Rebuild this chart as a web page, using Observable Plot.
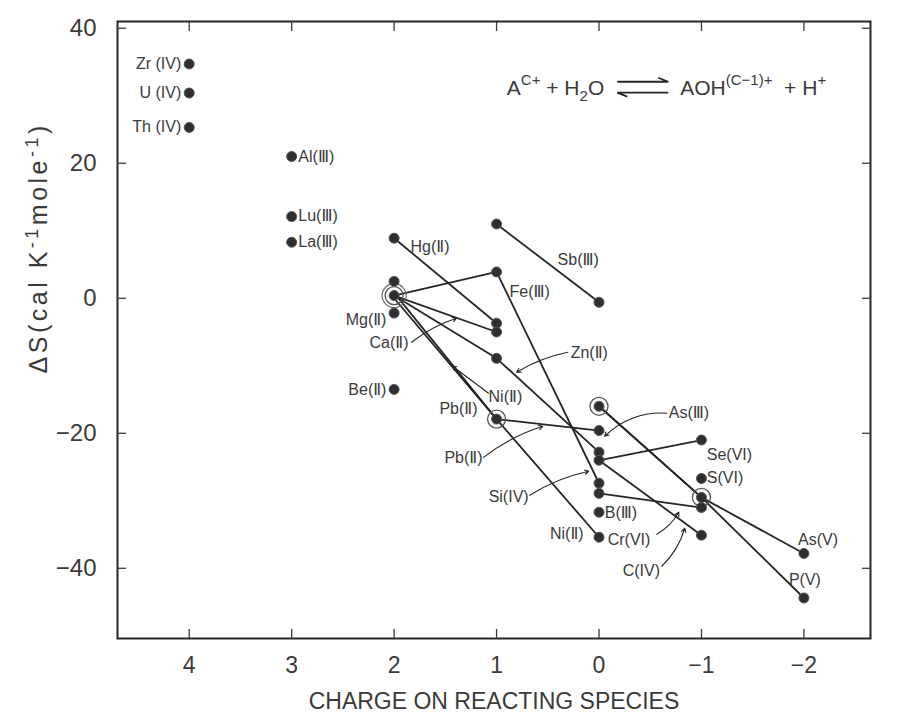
<!DOCTYPE html>
<html><head><meta charset="utf-8">
<script src="https://cdn.jsdelivr.net/npm/d3@7"></script>
<script src="https://cdn.jsdelivr.net/npm/@observablehq/plot@0.6"></script>
<style>
html,body{margin:0;padding:0;background:#fff;}
#chart svg{display:block;}
</style></head><body><div id="chart"></div>
<script>
// ---- data ----
const xTicks = [4, 3, 2, 1, 0, -1, -2];
const yTicks = [40, 20, 0, -20, -40];

// every plotted dot: charge on reacting species, ΔS (cal K^-1 mole^-1)
const pointCharge = [4,4,4, 3,3,3, 2,2,2,2,2, 1,1,1,1,1,1, 0,0,0,0,0,0,0,0,0, -1,-1,-1,-1,-1, -2,-2];
const pointDS     = [34.7,30.4,25.3, 21.0,12.1,8.3, 8.9,2.5,0.4,-2.2,-13.5,
                     11.0,3.9,-3.7,-5.0,-8.9,-17.9,
                     -0.6,-16.0,-19.6,-22.8,-24.0,-27.4,-28.9,-31.7,-35.4,
                     -21.0,-26.7,-29.5,-31.0,-35.1, -37.8,-44.4];

// ringed (overlapping) points
const ringCharge = [2, 1, 0, -1];
const ringDS     = [0.4, -17.9, -16.0, -29.5];

// connected hydrolysis series
const lineSpecies = ["Hg(Ⅱ)", "Ca(Ⅱ)", "Fe(Ⅲ)", "Zn(Ⅱ)", "Sb(Ⅲ)", "Pb(Ⅱ)", "Ni(Ⅱ)", "Si(IV)", "C(IV)", "Cr(VI)", "P(V)", "As(V)"];
const lineCharges = [[2,1],[2,1],[2,1,0],[2,1,0],[1,0],[2,1,0],[2,1,0],[0,-1],[0,-1],[0,-1],[0,-1,-2],[0,-1,-2]];
const lineDS      = [[8.9,-3.7],[0.4,-5.0],[0.4,3.9,-27.4],[0.4,-8.9,-22.8],[11.0,-0.6],[0.8,-17.9,-19.6],
                     [0.0,-17.9,-35.4],[-24.0,-21.0],[-24.0,-35.1],[-28.9,-31.0],[-16.0,-29.5,-44.4],[-16.0,-29.5,-37.8]];

// species labels
const labelText = ["Zr (IV)","U (IV)","Th (IV)","Al(Ⅲ)","Lu(Ⅲ)","La(Ⅲ)","Hg(Ⅱ)","Sb(Ⅲ)","Fe(Ⅲ)","Mg(Ⅱ)","Ca(Ⅱ)","Zn(Ⅱ)",
                   "Be(Ⅱ)","Ni(Ⅱ)","Pb(Ⅱ)","Pb(Ⅱ)","Si(IV)","Ni(Ⅱ)","As(Ⅲ)","Se(VI)","S(VI)","B(Ⅲ)","Cr(VI)","C(IV)","As(V)","P(V)"];

const xAxisTitle = "CHARGE ON REACTING SPECIES";

// ---- layout (label anchors in data units) ----
const labelX = [4.078,4.078,4.078,2.935,2.935,2.935,1.840,0.404,0.873,2.075,1.860,0.277,
                2.075,1.078,1.186,1.137,0.687,0.150,-0.681,-1.052,-1.052,-0.056,-0.085,-0.231,-1.942,-1.854];
const labelY = [34.67,30.37,25.33,20.89,12.15,8.30,7.56,5.63,0.89,-3.26,-6.67,-8.15,
                -13.63,-14.67,-16.44,-23.70,-29.48,-34.96,-17.04,-23.26,-26.67,-31.85,-35.85,-40.44,-35.85,-41.78];
const labelAnchor = ["end","end","end","start","start","start","start","start","start","end","end","start",
                     "end","start","end","end","end","end","start","start","start","start","start","start","start","start"];
// leader lines: [x1,y1,x2,y2,bend]
const leaders = [
  [1.830,-6.52,1.391,-2.96,10],
  [0.306,-8.0,0.804,-10.96,-10],
  [1.078,-14.07,1.430,-10.07,0],
  [1.127,-23.56,0.550,-18.96,10],
  [0.677,-29.19,0.101,-25.63,10],
  [-0.661,-17.04,-0.056,-20.44,-25],
  [-0.564,-34.96,-0.779,-31.70,-15],
  [-0.613,-39.70,-0.837,-34.07,-15]
];

const ink = "#262626";
const textInk = "#3a3a3a";
const font = "'Liberation Sans', 'DejaVu Sans', sans-serif";

const points = pointCharge.map((c, i) => ({c, v: pointDS[i]}));
const rings = ringCharge.map((c, i) => ({c, v: ringDS[i]}));
const lineRows = lineSpecies.flatMap((s, i) => lineCharges[i].map((c, j) => ({s, c, v: lineDS[i][j]})));
const labels = labelText.map((t, i) => ({t, x: labelX[i], y: labelY[i], a: labelAnchor[i]}));
const leaderRows = leaders.map(([x1,y1,x2,y2,b]) => ({x1,y1,x2,y2,b}));

const plot = Plot.plot({
  width: 913, height: 716,
  marginLeft: 117, marginRight: 43, marginTop: 21, marginBottom: 78,
  style: {fontFamily: font, background: "#fff", color: textInk},
  x: {domain: [4.7, -2.65], ticks: xTicks},
  y: {domain: [-50.4, 41], ticks: yTicks},
  marks: [
    Plot.frame({stroke: ink, strokeWidth: 2}),
    Plot.axisY(yTicks, {anchor: "left", tickSize: -9, tickPadding: 30, fontSize: 24, label: null, strokeWidth: 1.3}),
    Plot.axisY(yTicks, {anchor: "right", tickSize: -9, tickFormat: () => "", label: null, strokeWidth: 1.3}),
    Plot.axisX(xTicks, {anchor: "bottom", tickSize: -9, tickPadding: 27, fontSize: 23, label: xAxisTitle,
                        labelAnchor: "center", labelOffset: 70, labelArrow: "none", strokeWidth: 1.3}),
    Plot.axisX(xTicks, {anchor: "top", tickSize: -9, tickFormat: () => "", label: null, strokeWidth: 1.3}),
    Plot.line(lineRows, {x: "c", y: "v", z: "s", stroke: ink, strokeWidth: 1.8}),
    ...leaderRows.map(d => Plot.arrow([d], {x1: "x1", y1: "y1", x2: "x2", y2: "y2", bend: d.b, stroke: ink, strokeWidth: 1.1, headLength: 6})),
    Plot.dot(rings, {x: "c", y: "v", r: 9, stroke: "#555", strokeWidth: 1.3, fill: "none"}),
    Plot.dot(rings.slice(0, 1), {x: "c", y: "v", r: 12, stroke: "#666", strokeWidth: 1.2, fill: "none"}),
    Plot.dot(points, {x: "c", y: "v", r: 5, fill: "#2e2e2e", stroke: "#555", strokeWidth: 1}),
    Plot.text(labels.filter(d => d.a === "start"), {x: "x", y: "y", text: "t", textAnchor: "start", fontSize: 16, fill: textInk}),
    Plot.text(labels.filter(d => d.a === "end"), {x: "x", y: "y", text: "t", textAnchor: "end", fontSize: 16, fill: textInk})
  ]
});
document.getElementById("chart").appendChild(plot);

const sx = plot.scale("x"), sy = plot.scale("y");
const svg = d3.select(plot);

// y axis title with raised exponents, placed through the scales
const yt = svg.append("text").attr("fill", textInk).attr("font-family", font).attr("font-size", 25)
  .attr("letter-spacing", 3.5).attr("text-anchor", "middle")
  .attr("transform", `translate(${sx.apply(4.7) - 70},${sy.apply(7.4)}) rotate(-90)`);
yt.append("tspan").text("ΔS(cal K");
yt.append("tspan").attr("dy", -9).attr("font-size", 18).text("-1");
yt.append("tspan").attr("dy", 9).text("mole");
yt.append("tspan").attr("dy", -9).attr("font-size", 18).text("-1");
yt.append("tspan").attr("dy", 9).text(")");

// reaction equation
const g = svg.append("g").attr("fill", textInk).attr("font-family", font).attr("font-size", 21);
const base = sy.apply(30.07);
const left = g.append("text").attr("x", sx.apply(-0.056)).attr("y", base).attr("text-anchor", "end");
left.append("tspan").text("A");
left.append("tspan").attr("dy", -10).attr("font-size", 15).text("C+");
left.append("tspan").attr("dy", 10).text(" + H");
left.append("tspan").attr("dy", 6).attr("font-size", 15).text("2");
left.append("tspan").attr("dy", -6).text("O");
const right = g.append("text").attr("x", sx.apply(-0.798)).attr("y", base).attr("text-anchor", "start");
right.append("tspan").text("AOH");
right.append("tspan").attr("dy", -10).attr("font-size", 15).text("(C−1)+");
right.append("tspan").attr("dy", 10).text("  + H");
right.append("tspan").attr("dy", -10).attr("font-size", 15).text("+");
const ax1 = sx.apply(-0.183), ax2 = sx.apply(-0.681);
const ay1 = sy.apply(32.0), ay2 = sy.apply(30.4);
g.append("path").attr("fill", "none").attr("stroke", ink).attr("stroke-width", 1.8)
  .attr("d", `M${ax1},${ay1}H${ax2}l-10,-4`);
g.append("path").attr("fill", "none").attr("stroke", ink).attr("stroke-width", 1.8)
  .attr("d", `M${ax2},${ay2}H${ax1}l10,4`);
</script></body></html>
